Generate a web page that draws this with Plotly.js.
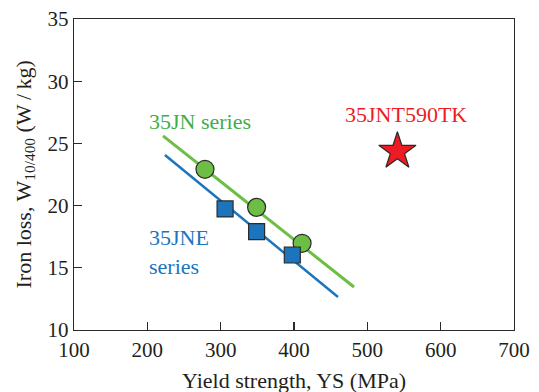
<!DOCTYPE html>
<html>
<head>
<meta charset="utf-8">
<script src="https://cdn.plot.ly/plotly-3.0.1.min.js"></script>
<style>html,body{margin:0;padding:0;background:#fff;}#chart{width:539px;height:392px;}</style>
</head>
<body>
<div id="chart"></div>
<script>
// 35JN series (circles)
const jnYS = [278.6, 349, 411];
const jnLoss = [22.92, 19.86, 16.97];
// 35JNE series (squares)
const jneYS = [306, 349, 397.7];
const jneLoss = [19.73, 17.9, 16.03];
// 35JNT590TK (star)
const tkYS = [541];
const tkLoss = [24.36];
// trend lines (endpoints)
const jnFitYS = [221.4, 481.8];
const jnFitLoss = [25.6, 13.46];
const jneFitYS = [224, 460];
const jneFitLoss = [24.07, 12.65];
// axis ticks
const xTicks = [100, 200, 300, 400, 500, 600, 700];
const yTicks = [10, 15, 20, 25, 30, 35];

const serif = '"Liberation Serif", "Times New Roman", Times, serif';
const green = '#6cbe45', blue = '#1c75bc', red = '#ed1c24';

const traces = [
  {x: jnFitYS, y: jnFitLoss, mode: 'lines', line: {color: green, width: 3}, hoverinfo: 'skip'},
  {x: jneFitYS, y: jneFitLoss, mode: 'lines', line: {color: blue, width: 2.5}, hoverinfo: 'skip'},
  {x: jnYS, y: jnLoss, mode: 'markers', marker: {symbol: 'circle', size: 18, color: green, line: {color: '#2b2b2b', width: 1.2}}},
  {x: jneYS, y: jneLoss, mode: 'markers', marker: {symbol: 'square', size: 16, color: blue, line: {color: '#2b2b2b', width: 1.2}}},
  {x: tkYS, y: tkLoss, mode: 'markers', marker: {symbol: 'star', size: 28, color: red, line: {color: '#2b2b2b', width: 1.2}}}
];

const axisCommon = {
  showgrid: false, zeroline: false, showline: true, mirror: true,
  linecolor: '#2b2b2b', linewidth: 1.3,
  ticks: 'inside', ticklen: 8, tickwidth: 1.2, tickcolor: '#2b2b2b',
  tickfont: {family: serif, size: 21, color: '#231f20'}
};

const layout = {
  width: 539, height: 392,
  margin: {l: 74, r: 25, t: 19, b: 62},
  paper_bgcolor: '#fff', plot_bgcolor: '#fff',
  showlegend: false,
  font: {family: serif, color: '#231f20'},
  xaxis: Object.assign({}, axisCommon, {range: [100, 700], tickvals: xTicks, ticktext: xTicks.map(String)}),
  yaxis: Object.assign({}, axisCommon, {range: [10, 35], tickvals: yTicks, ticktext: yTicks.map(String)}),
  annotations: [
    {text: 'Yield strength, YS (MPa)', xref: 'paper', yref: 'paper', x: 0.5, y: 0, xanchor: 'center', yanchor: 'middle', yshift: -50, showarrow: false, font: {family: serif, size: 22, color: '#231f20'}},
    {text: 'Iron loss, W<sub>10/400</sub> (W\u2009/\u2009kg)', xref: 'paper', yref: 'paper', x: 0, y: 0.5, xanchor: 'center', yanchor: 'middle', xshift: -50, textangle: -90, showarrow: false, font: {family: serif, size: 22, color: '#231f20'}},
    {text: '35JN series', x: 199, y: 26.8, xanchor: 'left', yanchor: 'middle', showarrow: false, font: {family: serif, size: 22, color: '#3fae49'}},
    {text: '35JNE<br>series', x: 199, y: 16.27, xanchor: 'left', yanchor: 'middle', align: 'left', showarrow: false, font: {family: serif, size: 22, color: blue}},
    {text: '35JNT590TK', x: 466.8, y: 27.3, xanchor: 'left', yanchor: 'middle', showarrow: false, font: {family: serif, size: 22, color: red}}
  ]
};

Plotly.newPlot('chart', traces, layout, {staticPlot: true, displayModeBar: false});
</script>
</body>
</html>
